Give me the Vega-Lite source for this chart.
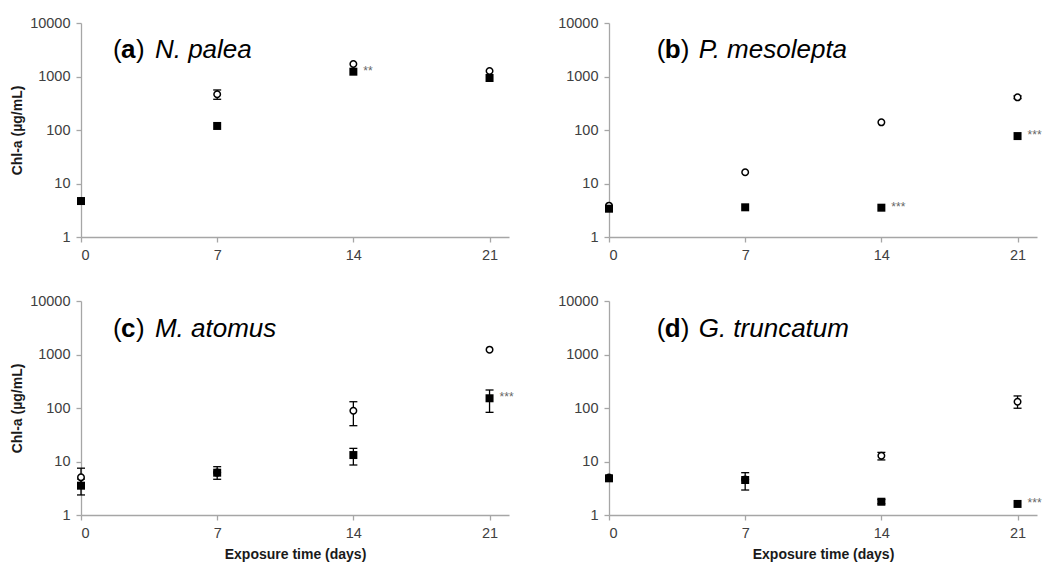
{
  "$schema": "https://vega.github.io/schema/vega-lite/v6.json",
  "padding": {"left": 10, "top": 15, "right": 0, "bottom": 0},
  "bounds": "flush",
  "columns": 2,
  "spacing": {"row": 64, "column": 100},
  "datasets": {
    "points": [
      {"panel": "a", "day": 0, "group": "control", "value": 4.7, "lo": null, "hi": null, "sig": null},
      {"panel": "a", "day": 0, "group": "treated", "value": 4.7, "lo": null, "hi": null, "sig": null},
      {"panel": "a", "day": 7, "group": "control", "value": 465, "lo": 375, "hi": 560, "sig": null},
      {"panel": "a", "day": 7, "group": "treated", "value": 119, "lo": null, "hi": null, "sig": null},
      {"panel": "a", "day": 14, "group": "control", "value": 1713, "lo": null, "hi": null, "sig": null},
      {"panel": "a", "day": 14, "group": "treated", "value": 1230, "lo": null, "hi": null, "sig": "**"},
      {"panel": "a", "day": 21, "group": "control", "value": 1267, "lo": null, "hi": null, "sig": null},
      {"panel": "a", "day": 21, "group": "treated", "value": 937, "lo": null, "hi": null, "sig": null},
      {"panel": "b", "day": 0, "group": "control", "value": 3.85, "lo": null, "hi": null, "sig": null},
      {"panel": "b", "day": 0, "group": "treated", "value": 3.38, "lo": null, "hi": null, "sig": null},
      {"panel": "b", "day": 7, "group": "control", "value": 16.2, "lo": null, "hi": null, "sig": null},
      {"panel": "b", "day": 7, "group": "treated", "value": 3.59, "lo": null, "hi": null, "sig": null},
      {"panel": "b", "day": 14, "group": "control", "value": 139, "lo": null, "hi": null, "sig": null},
      {"panel": "b", "day": 14, "group": "treated", "value": 3.53, "lo": null, "hi": null, "sig": "***"},
      {"panel": "b", "day": 21, "group": "control", "value": 408, "lo": 385, "hi": 435, "sig": null},
      {"panel": "b", "day": 21, "group": "treated", "value": 77, "lo": null, "hi": null, "sig": "***"},
      {"panel": "c", "day": 0, "group": "control", "value": 5.06, "lo": 3.3, "hi": 7.5, "sig": null},
      {"panel": "c", "day": 0, "group": "treated", "value": 3.53, "lo": 2.37, "hi": 4.7, "sig": null},
      {"panel": "c", "day": 7, "group": "control", "value": 6.2, "lo": null, "hi": null, "sig": null},
      {"panel": "c", "day": 7, "group": "treated", "value": 6.18, "lo": 4.65, "hi": 8.0, "sig": null},
      {"panel": "c", "day": 14, "group": "control", "value": 89, "lo": 46.7, "hi": 131, "sig": null},
      {"panel": "c", "day": 14, "group": "treated", "value": 13.2, "lo": 8.6, "hi": 17.6, "sig": null},
      {"panel": "c", "day": 21, "group": "control", "value": 1230, "lo": null, "hi": null, "sig": null},
      {"panel": "c", "day": 21, "group": "treated", "value": 152, "lo": 83, "hi": 217, "sig": "***"},
      {"panel": "d", "day": 0, "group": "control", "value": 5.0, "lo": null, "hi": null, "sig": null},
      {"panel": "d", "day": 0, "group": "treated", "value": 4.85, "lo": null, "hi": null, "sig": null},
      {"panel": "d", "day": 7, "group": "control", "value": 4.6, "lo": null, "hi": null, "sig": null},
      {"panel": "d", "day": 7, "group": "treated", "value": 4.51, "lo": 2.93, "hi": 6.18, "sig": null},
      {"panel": "d", "day": 14, "group": "control", "value": 12.8, "lo": 10.7, "hi": 14.8, "sig": null},
      {"panel": "d", "day": 14, "group": "treated", "value": 1.77, "lo": 1.62, "hi": 1.95, "sig": null},
      {"panel": "d", "day": 21, "group": "control", "value": 131, "lo": 99, "hi": 168, "sig": null},
      {"panel": "d", "day": 21, "group": "treated", "value": 1.61, "lo": null, "hi": null, "sig": "***"}
    ],
    "titles": [
      {"panel": "a", "open": "(", "letter": "a", "close": ")", "species": "N. palea"},
      {"panel": "b", "open": "(", "letter": "b", "close": ")", "species": "P. mesolepta"},
      {"panel": "c", "open": "(", "letter": "c", "close": ")", "species": "M. atomus"},
      {"panel": "d", "open": "(", "letter": "d", "close": ")", "species": "G. truncatum"}
    ]
  },
  "concat": [
    {
      "width": 428, "height": 214,
      "layer": [
        {"data": {"name": "points"}, "transform": [{"filter": "datum.panel === 'a' && datum.lo != null"}],
         "mark": {"type": "rule", "color": "black", "strokeWidth": 1.3},
         "encoding": {
           "x": {"field": "day", "type": "quantitative", "scale": {"domain": [0, 22], "nice": false}, "axis": {"values": [0, 7, 14, 21]}, "title": null},
           "y": {"field": "lo", "type": "quantitative", "scale": {"type": "log", "domain": [1, 10000], "nice": false}, "axis": {"values": [1, 10, 100, 1000, 10000], "format": "d"}, "title": "Chl-a (µg/mL)"}, "y2": {"field": "hi"}}},
        {"data": {"name": "points"}, "transform": [{"filter": "datum.panel === 'a' && datum.lo != null"}],
         "mark": {"type": "point", "shape": "M-1,0L1,0", "filled": false, "stroke": "black", "strokeWidth": 1.3, "size": 64, "opacity": 1},
         "encoding": {"x": {"field": "day", "type": "quantitative", "title": null}, "y": {"field": "lo", "type": "quantitative", "title": "Chl-a (µg/mL)"}}},
        {"data": {"name": "points"}, "transform": [{"filter": "datum.panel === 'a' && datum.lo != null"}],
         "mark": {"type": "point", "shape": "M-1,0L1,0", "filled": false, "stroke": "black", "strokeWidth": 1.3, "size": 64, "opacity": 1},
         "encoding": {"x": {"field": "day", "type": "quantitative", "title": null}, "y": {"field": "hi", "type": "quantitative", "title": "Chl-a (µg/mL)"}}},
        {"data": {"name": "points"}, "transform": [{"filter": "datum.panel === 'a' && datum.group === 'control'"}],
         "mark": {"type": "point", "shape": "circle", "filled": true, "fill": "white", "stroke": "black", "strokeWidth": 1.5, "size": 42, "opacity": 1},
         "encoding": {"x": {"field": "day", "type": "quantitative", "title": null}, "y": {"field": "value", "type": "quantitative", "title": "Chl-a (µg/mL)"}}},
        {"data": {"name": "points"}, "transform": [{"filter": "datum.panel === 'a' && datum.group === 'treated'"}],
         "mark": {"type": "point", "shape": "square", "filled": true, "color": "black", "size": 64, "opacity": 1},
         "encoding": {"x": {"field": "day", "type": "quantitative", "title": null}, "y": {"field": "value", "type": "quantitative", "title": "Chl-a (µg/mL)"}}},
        {"data": {"name": "points"}, "transform": [{"filter": "datum.panel === 'a' && datum.sig != null"}],
         "mark": {"type": "text", "align": "left", "baseline": "middle", "dx": 10, "dy": -1, "fontSize": 12, "color": "#666666"},
         "encoding": {"x": {"field": "day", "type": "quantitative", "title": null}, "y": {"field": "value", "type": "quantitative", "title": "Chl-a (µg/mL)"}, "text": {"field": "sig"}}},
        {"data": {"name": "titles"}, "transform": [{"filter": "datum.panel === 'a'"}],
         "mark": {"type": "text", "align": "left", "baseline": "alphabetic", "fontSize": 26, "color": "black"},
         "encoding": {"x": {"datum": 1.64, "type": "quantitative"}, "y": {"datum": 2250, "type": "quantitative"}, "text": {"field": "open"}}},
        {"data": {"name": "titles"}, "transform": [{"filter": "datum.panel === 'a'"}],
         "mark": {"type": "text", "align": "left", "baseline": "alphabetic", "fontSize": 26, "fontWeight": "bold", "dx": 8, "color": "black"},
         "encoding": {"x": {"datum": 1.64, "type": "quantitative"}, "y": {"datum": 2250, "type": "quantitative"}, "text": {"field": "letter"}}},
        {"data": {"name": "titles"}, "transform": [{"filter": "datum.panel === 'a'"}],
         "mark": {"type": "text", "align": "left", "baseline": "alphabetic", "fontSize": 26, "dx": 23, "color": "black"},
         "encoding": {"x": {"datum": 1.64, "type": "quantitative"}, "y": {"datum": 2250, "type": "quantitative"}, "text": {"field": "close"}}},
        {"data": {"name": "titles"}, "transform": [{"filter": "datum.panel === 'a'"}],
         "mark": {"type": "text", "align": "left", "baseline": "alphabetic", "fontSize": 26, "fontStyle": "italic", "dx": 42, "color": "black"},
         "encoding": {"x": {"datum": 1.64, "type": "quantitative"}, "y": {"datum": 2250, "type": "quantitative"}, "text": {"field": "species"}}}
      ]
    },
    {
      "width": 428, "height": 214,
      "layer": [
        {"data": {"name": "points"}, "transform": [{"filter": "datum.panel === 'b' && datum.lo != null"}],
         "mark": {"type": "rule", "color": "black", "strokeWidth": 1.3},
         "encoding": {
           "x": {"field": "day", "type": "quantitative", "scale": {"domain": [0, 22], "nice": false}, "axis": {"values": [0, 7, 14, 21]}, "title": null},
           "y": {"field": "lo", "type": "quantitative", "scale": {"type": "log", "domain": [1, 10000], "nice": false}, "axis": {"values": [1, 10, 100, 1000, 10000], "format": "d"}, "title": null}, "y2": {"field": "hi"}}},
        {"data": {"name": "points"}, "transform": [{"filter": "datum.panel === 'b' && datum.lo != null"}],
         "mark": {"type": "point", "shape": "M-1,0L1,0", "filled": false, "stroke": "black", "strokeWidth": 1.3, "size": 64, "opacity": 1},
         "encoding": {"x": {"field": "day", "type": "quantitative", "title": null}, "y": {"field": "lo", "type": "quantitative", "title": null}}},
        {"data": {"name": "points"}, "transform": [{"filter": "datum.panel === 'b' && datum.lo != null"}],
         "mark": {"type": "point", "shape": "M-1,0L1,0", "filled": false, "stroke": "black", "strokeWidth": 1.3, "size": 64, "opacity": 1},
         "encoding": {"x": {"field": "day", "type": "quantitative", "title": null}, "y": {"field": "hi", "type": "quantitative", "title": null}}},
        {"data": {"name": "points"}, "transform": [{"filter": "datum.panel === 'b' && datum.group === 'control'"}],
         "mark": {"type": "point", "shape": "circle", "filled": true, "fill": "white", "stroke": "black", "strokeWidth": 1.5, "size": 42, "opacity": 1},
         "encoding": {"x": {"field": "day", "type": "quantitative", "title": null}, "y": {"field": "value", "type": "quantitative", "title": null}}},
        {"data": {"name": "points"}, "transform": [{"filter": "datum.panel === 'b' && datum.group === 'treated'"}],
         "mark": {"type": "point", "shape": "square", "filled": true, "color": "black", "size": 64, "opacity": 1},
         "encoding": {"x": {"field": "day", "type": "quantitative", "title": null}, "y": {"field": "value", "type": "quantitative", "title": null}}},
        {"data": {"name": "points"}, "transform": [{"filter": "datum.panel === 'b' && datum.sig != null"}],
         "mark": {"type": "text", "align": "left", "baseline": "middle", "dx": 10, "dy": -1, "fontSize": 12, "color": "#666666"},
         "encoding": {"x": {"field": "day", "type": "quantitative", "title": null}, "y": {"field": "value", "type": "quantitative", "title": null}, "text": {"field": "sig"}}},
        {"data": {"name": "titles"}, "transform": [{"filter": "datum.panel === 'b'"}],
         "mark": {"type": "text", "align": "left", "baseline": "alphabetic", "fontSize": 26, "color": "black"},
         "encoding": {"x": {"datum": 2.45, "type": "quantitative"}, "y": {"datum": 2250, "type": "quantitative"}, "text": {"field": "open"}}},
        {"data": {"name": "titles"}, "transform": [{"filter": "datum.panel === 'b'"}],
         "mark": {"type": "text", "align": "left", "baseline": "alphabetic", "fontSize": 26, "fontWeight": "bold", "dx": 8, "color": "black"},
         "encoding": {"x": {"datum": 2.45, "type": "quantitative"}, "y": {"datum": 2250, "type": "quantitative"}, "text": {"field": "letter"}}},
        {"data": {"name": "titles"}, "transform": [{"filter": "datum.panel === 'b'"}],
         "mark": {"type": "text", "align": "left", "baseline": "alphabetic", "fontSize": 26, "dx": 24, "color": "black"},
         "encoding": {"x": {"datum": 2.45, "type": "quantitative"}, "y": {"datum": 2250, "type": "quantitative"}, "text": {"field": "close"}}},
        {"data": {"name": "titles"}, "transform": [{"filter": "datum.panel === 'b'"}],
         "mark": {"type": "text", "align": "left", "baseline": "alphabetic", "fontSize": 26, "fontStyle": "italic", "dx": 42, "color": "black"},
         "encoding": {"x": {"datum": 2.45, "type": "quantitative"}, "y": {"datum": 2250, "type": "quantitative"}, "text": {"field": "species"}}}
      ]
    },
    {
      "width": 428, "height": 214,
      "layer": [
        {"data": {"name": "points"}, "transform": [{"filter": "datum.panel === 'c' && datum.lo != null"}],
         "mark": {"type": "rule", "color": "black", "strokeWidth": 1.3},
         "encoding": {
           "x": {"field": "day", "type": "quantitative", "scale": {"domain": [0, 22], "nice": false}, "axis": {"values": [0, 7, 14, 21]}, "title": "Exposure time (days)"},
           "y": {"field": "lo", "type": "quantitative", "scale": {"type": "log", "domain": [1, 10000], "nice": false}, "axis": {"values": [1, 10, 100, 1000, 10000], "format": "d"}, "title": "Chl-a (µg/mL)"}, "y2": {"field": "hi"}}},
        {"data": {"name": "points"}, "transform": [{"filter": "datum.panel === 'c' && datum.lo != null"}],
         "mark": {"type": "point", "shape": "M-1,0L1,0", "filled": false, "stroke": "black", "strokeWidth": 1.3, "size": 64, "opacity": 1},
         "encoding": {"x": {"field": "day", "type": "quantitative", "title": "Exposure time (days)"}, "y": {"field": "lo", "type": "quantitative", "title": "Chl-a (µg/mL)"}}},
        {"data": {"name": "points"}, "transform": [{"filter": "datum.panel === 'c' && datum.lo != null"}],
         "mark": {"type": "point", "shape": "M-1,0L1,0", "filled": false, "stroke": "black", "strokeWidth": 1.3, "size": 64, "opacity": 1},
         "encoding": {"x": {"field": "day", "type": "quantitative", "title": "Exposure time (days)"}, "y": {"field": "hi", "type": "quantitative", "title": "Chl-a (µg/mL)"}}},
        {"data": {"name": "points"}, "transform": [{"filter": "datum.panel === 'c' && datum.group === 'control'"}],
         "mark": {"type": "point", "shape": "circle", "filled": true, "fill": "white", "stroke": "black", "strokeWidth": 1.5, "size": 42, "opacity": 1},
         "encoding": {"x": {"field": "day", "type": "quantitative", "title": "Exposure time (days)"}, "y": {"field": "value", "type": "quantitative", "title": "Chl-a (µg/mL)"}}},
        {"data": {"name": "points"}, "transform": [{"filter": "datum.panel === 'c' && datum.group === 'treated'"}],
         "mark": {"type": "point", "shape": "square", "filled": true, "color": "black", "size": 64, "opacity": 1},
         "encoding": {"x": {"field": "day", "type": "quantitative", "title": "Exposure time (days)"}, "y": {"field": "value", "type": "quantitative", "title": "Chl-a (µg/mL)"}}},
        {"data": {"name": "points"}, "transform": [{"filter": "datum.panel === 'c' && datum.sig != null"}],
         "mark": {"type": "text", "align": "left", "baseline": "middle", "dx": 10, "dy": -1, "fontSize": 12, "color": "#666666"},
         "encoding": {"x": {"field": "day", "type": "quantitative", "title": "Exposure time (days)"}, "y": {"field": "value", "type": "quantitative", "title": "Chl-a (µg/mL)"}, "text": {"field": "sig"}}},
        {"data": {"name": "titles"}, "transform": [{"filter": "datum.panel === 'c'"}],
         "mark": {"type": "text", "align": "left", "baseline": "alphabetic", "fontSize": 26, "color": "black"},
         "encoding": {"x": {"datum": 1.64, "type": "quantitative"}, "y": {"datum": 2100, "type": "quantitative"}, "text": {"field": "open"}}},
        {"data": {"name": "titles"}, "transform": [{"filter": "datum.panel === 'c'"}],
         "mark": {"type": "text", "align": "left", "baseline": "alphabetic", "fontSize": 26, "fontWeight": "bold", "dx": 8, "color": "black"},
         "encoding": {"x": {"datum": 1.64, "type": "quantitative"}, "y": {"datum": 2100, "type": "quantitative"}, "text": {"field": "letter"}}},
        {"data": {"name": "titles"}, "transform": [{"filter": "datum.panel === 'c'"}],
         "mark": {"type": "text", "align": "left", "baseline": "alphabetic", "fontSize": 26, "dx": 23, "color": "black"},
         "encoding": {"x": {"datum": 1.64, "type": "quantitative"}, "y": {"datum": 2100, "type": "quantitative"}, "text": {"field": "close"}}},
        {"data": {"name": "titles"}, "transform": [{"filter": "datum.panel === 'c'"}],
         "mark": {"type": "text", "align": "left", "baseline": "alphabetic", "fontSize": 26, "fontStyle": "italic", "dx": 42, "color": "black"},
         "encoding": {"x": {"datum": 1.64, "type": "quantitative"}, "y": {"datum": 2100, "type": "quantitative"}, "text": {"field": "species"}}}
      ]
    },
    {
      "width": 428, "height": 214,
      "layer": [
        {"data": {"name": "points"}, "transform": [{"filter": "datum.panel === 'd' && datum.lo != null"}],
         "mark": {"type": "rule", "color": "black", "strokeWidth": 1.3},
         "encoding": {
           "x": {"field": "day", "type": "quantitative", "scale": {"domain": [0, 22], "nice": false}, "axis": {"values": [0, 7, 14, 21]}, "title": "Exposure time (days)"},
           "y": {"field": "lo", "type": "quantitative", "scale": {"type": "log", "domain": [1, 10000], "nice": false}, "axis": {"values": [1, 10, 100, 1000, 10000], "format": "d"}, "title": null}, "y2": {"field": "hi"}}},
        {"data": {"name": "points"}, "transform": [{"filter": "datum.panel === 'd' && datum.lo != null"}],
         "mark": {"type": "point", "shape": "M-1,0L1,0", "filled": false, "stroke": "black", "strokeWidth": 1.3, "size": 64, "opacity": 1},
         "encoding": {"x": {"field": "day", "type": "quantitative", "title": "Exposure time (days)"}, "y": {"field": "lo", "type": "quantitative", "title": null}}},
        {"data": {"name": "points"}, "transform": [{"filter": "datum.panel === 'd' && datum.lo != null"}],
         "mark": {"type": "point", "shape": "M-1,0L1,0", "filled": false, "stroke": "black", "strokeWidth": 1.3, "size": 64, "opacity": 1},
         "encoding": {"x": {"field": "day", "type": "quantitative", "title": "Exposure time (days)"}, "y": {"field": "hi", "type": "quantitative", "title": null}}},
        {"data": {"name": "points"}, "transform": [{"filter": "datum.panel === 'd' && datum.group === 'control'"}],
         "mark": {"type": "point", "shape": "circle", "filled": true, "fill": "white", "stroke": "black", "strokeWidth": 1.5, "size": 42, "opacity": 1},
         "encoding": {"x": {"field": "day", "type": "quantitative", "title": "Exposure time (days)"}, "y": {"field": "value", "type": "quantitative", "title": null}}},
        {"data": {"name": "points"}, "transform": [{"filter": "datum.panel === 'd' && datum.group === 'treated'"}],
         "mark": {"type": "point", "shape": "square", "filled": true, "color": "black", "size": 64, "opacity": 1},
         "encoding": {"x": {"field": "day", "type": "quantitative", "title": "Exposure time (days)"}, "y": {"field": "value", "type": "quantitative", "title": null}}},
        {"data": {"name": "points"}, "transform": [{"filter": "datum.panel === 'd' && datum.sig != null"}],
         "mark": {"type": "text", "align": "left", "baseline": "middle", "dx": 10, "dy": -1, "fontSize": 12, "color": "#666666"},
         "encoding": {"x": {"field": "day", "type": "quantitative", "title": "Exposure time (days)"}, "y": {"field": "value", "type": "quantitative", "title": null}, "text": {"field": "sig"}}},
        {"data": {"name": "titles"}, "transform": [{"filter": "datum.panel === 'd'"}],
         "mark": {"type": "text", "align": "left", "baseline": "alphabetic", "fontSize": 26, "color": "black"},
         "encoding": {"x": {"datum": 2.45, "type": "quantitative"}, "y": {"datum": 2100, "type": "quantitative"}, "text": {"field": "open"}}},
        {"data": {"name": "titles"}, "transform": [{"filter": "datum.panel === 'd'"}],
         "mark": {"type": "text", "align": "left", "baseline": "alphabetic", "fontSize": 26, "fontWeight": "bold", "dx": 8, "color": "black"},
         "encoding": {"x": {"datum": 2.45, "type": "quantitative"}, "y": {"datum": 2100, "type": "quantitative"}, "text": {"field": "letter"}}},
        {"data": {"name": "titles"}, "transform": [{"filter": "datum.panel === 'd'"}],
         "mark": {"type": "text", "align": "left", "baseline": "alphabetic", "fontSize": 26, "dx": 24, "color": "black"},
         "encoding": {"x": {"datum": 2.45, "type": "quantitative"}, "y": {"datum": 2100, "type": "quantitative"}, "text": {"field": "close"}}},
        {"data": {"name": "titles"}, "transform": [{"filter": "datum.panel === 'd'"}],
         "mark": {"type": "text", "align": "left", "baseline": "alphabetic", "fontSize": 26, "fontStyle": "italic", "dx": 42, "color": "black"},
         "encoding": {"x": {"datum": 2.45, "type": "quantitative"}, "y": {"datum": 2100, "type": "quantitative"}, "text": {"field": "species"}}}
      ]
    }
  ],
  "config": {
    "view": {"stroke": null},
    "font": "Liberation Sans",
    "axis": {
      "grid": false,
      "domainColor": "#a6a6a6",
      "domainWidth": 1.3,
      "tickColor": "#a6a6a6",
      "tickWidth": 1.3,
      "tickSize": 5,
      "labelColor": "#404040",
      "labelFontSize": 14.5,
      "labelFont": "Liberation Sans",
      "titleFont": "Liberation Sans",
      "titleFontSize": 14,
      "titleFontWeight": "bold",
      "titleColor": "#1a1a1a"
    },
    "axisX": {"labelPadding": 6, "titlePadding": 8},
    "axisY": {"labelPadding": 6, "titlePadding": 5}
  }
}
